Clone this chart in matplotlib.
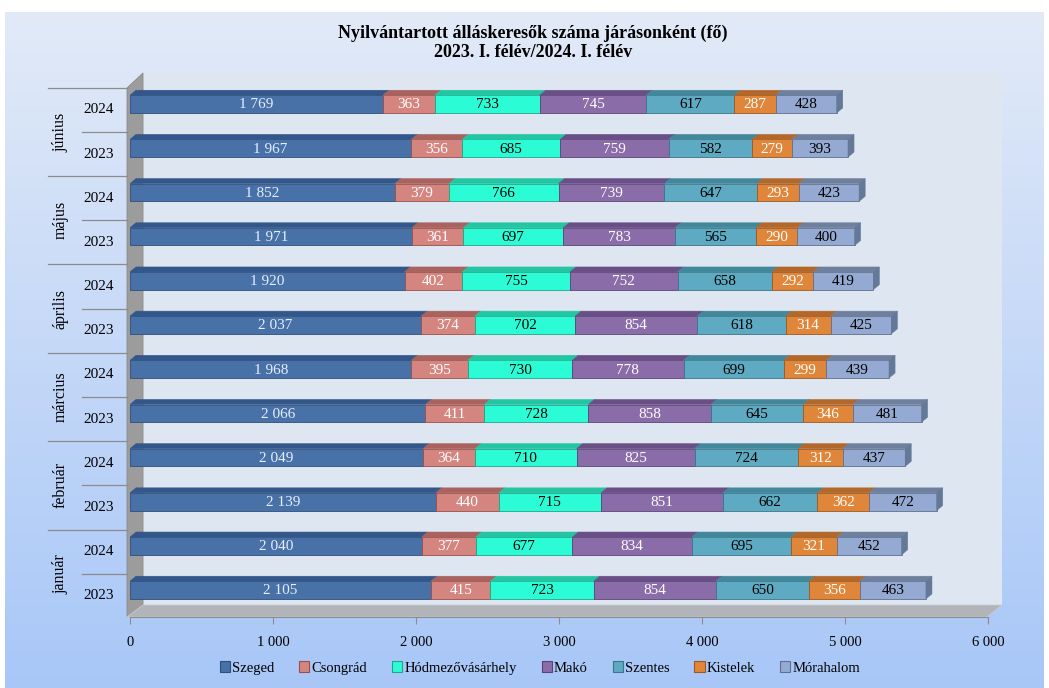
import numpy as np
import matplotlib
matplotlib.use("Agg")
import matplotlib.pyplot as plt
from matplotlib.patches import Polygon, Patch
import matplotlib.transforms as mtransforms

plt.rcParams['font.family'] = ['Liberation Serif', 'DejaVu Serif']

# --- data (bottom to top) ---
months = ['január', 'február', 'március', 'április', 'május', 'június']
years = ['2023', '2024']
districts = ['Szeged', 'Csongrád', 'Hódmezővásárhely', 'Makó', 'Szentes', 'Kistelek', 'Mórahalom']

szeged    = [2105, 2040, 2139, 2049, 2066, 1968, 2037, 1920, 1971, 1852, 1967, 1769]
csongrad  = [415, 377, 440, 364, 411, 395, 374, 402, 361, 379, 356, 363]
hodmezo   = [723, 677, 715, 710, 728, 730, 702, 755, 697, 766, 685, 733]
mako      = [854, 834, 851, 825, 858, 778, 854, 752, 783, 739, 759, 745]
szentes   = [650, 695, 662, 724, 645, 699, 618, 658, 565, 647, 582, 617]
kistelek  = [356, 321, 362, 312, 346, 299, 314, 292, 290, 293, 279, 287]
morahalom = [463, 452, 472, 437, 481, 439, 425, 419, 400, 423, 393, 428]

series = [szeged, csongrad, hodmezo, mako, szentes, kistelek, morahalom]
front_colors = ['#4771a7', '#d4857f', '#2cfcd5', '#8a6ca8', '#5eaac3', '#e0863a', '#95aad2']
top_colors = ['#33578a', '#a9625d', '#22c6a2', '#6a4f87', '#43879b', '#b3682b', '#6f809f']
edge_colors = ['#2f4f7a', '#9a4f4a', '#1ea585', '#5b4475', '#3b7688', '#9a5822', '#60708c']
text_colors = ['#e6eeff', 'white', 'black', 'white', 'black', 'white', 'black']
x_ticks = [0, 1000, 2000, 3000, 4000, 5000, 6000]

W, H = 1049, 688
fig = plt.figure(figsize=(W / 100, H / 100), dpi=100)
fig.patch.set_facecolor('white')

# background (pixel coordinates)
bg = fig.add_axes([0, 0, 1, 1])
bg.set_xlim(0, W)
bg.set_ylim(H, 0)
bg.axis('off')
grad = np.linspace(0, 1, 256)[:, None]
top_c = np.array([0xe2, 0xea, 0xf8]) / 255
bot_c = np.array([0xa8, 0xc7, 0xf7]) / 255
img = top_c[None, None, :] * (1 - grad[:, :, None]) + bot_c[None, None, :] * grad[:, :, None]
bg.imshow(img, extent=[5, W - 5, H, 12], aspect='auto', zorder=0)
# back wall
bg.add_patch(Polygon([(143, 73), (1002, 73), (1002, 605), (143, 605)], closed=True,
                     facecolor='#dde6f1', edgecolor='none', zorder=1))
# side wall
bg.add_patch(Polygon([(127, 88), (143, 73), (143, 605), (127, 617)], closed=True,
                     facecolor='#9c9c9c', edgecolor='#8a8a8a', lw=0.6, zorder=2))
# floor
bg.add_patch(Polygon([(127, 617), (143, 605), (1002, 605), (987, 617)], closed=True,
                     facecolor='#b1b5b9', edgecolor='#c8ccd0', lw=0.6, zorder=2))

# main axes
px_per_unit = 858 / 6000
ax = fig.add_axes([130 / W, (H - 617) / H, 858 / W, 535 / H])
ax.patch.set_alpha(0)
ax.set_xlim(0, 6000)
ax.set_ylim(-0.61, 11.5)
for s in ['top', 'right', 'left']:
    ax.spines[s].set_visible(False)
ax.spines['bottom'].set_color('#8c8c8c')
ax.set_xticks(x_ticks)
ax.set_xticklabels([f'{v:,}'.replace(',', ' ') for v in x_ticks], fontsize=10.5)
ax.tick_params(axis='x', direction='out', length=5, color='#8c8c8c', pad=9)
ax.set_yticks([])

y = np.arange(12)
bh = 0.40
dx = 6 / px_per_unit
dy = 5 / 44.2
left = np.zeros(12)
for k, vals in enumerate(series):
    vals = np.array(vals)
    ax.barh(y, vals, left=left, height=bh, color=front_colors[k],
            edgecolor=edge_colors[k], linewidth=0.6, zorder=3)
    for i in range(12):
        l, r = left[i], left[i] + vals[i]
        t = y[i] + bh / 2
        ax.add_patch(Polygon([(l, t), (l + dx, t + dy), (r + dx, t + dy), (r, t)], closed=True,
                             facecolor=top_colors[k], edgecolor=top_colors[k], lw=0.4, zorder=3))
        if k == len(series) - 1:
            b = y[i] - bh / 2
            ax.add_patch(Polygon([(r, b), (r + dx, b + dy), (r + dx, t + dy), (r, t)], closed=True,
                                 facecolor='#647897', edgecolor='#647897', lw=0.4, zorder=3))
        ax.text(l + vals[i] / 2, y[i] - 0.02, f'{vals[i]:,}'.replace(',', ' '),
                ha='center', va='center', fontsize=11, color=text_colors[k], zorder=4)
    left = left + vals

# category labels on the left
trans = mtransforms.blended_transform_factory(ax.transAxes, ax.transData)
shift = 0.13
for i in range(12):
    ax.text(-0.037, y[i] - shift, years[i % 2], transform=trans, ha='center', va='center',
            fontsize=11, clip_on=False)
for m, name in enumerate(months):
    ax.text(-0.081, 2 * m + 0.5 - shift, name, transform=trans, ha='center', va='center',
            rotation=90, fontsize=11.5, clip_on=False)
    # month separator above, year separator in the middle
    ax.plot([-0.095, -0.003], [2 * m + 1.5 - shift] * 2, transform=trans, color='#8c8c8c',
            lw=0.9, clip_on=False)
    ax.plot([-0.056, -0.003], [2 * m + 0.5 - shift] * 2, transform=trans, color='#8c8c8c',
            lw=0.9, clip_on=False)

fig.text(533 / W, 1 - 43 / H, 'Nyilvántartott álláskeresők száma járásonként (fő)\n2023. I. félév/2024. I. félév',
         ha='center', va='center', fontsize=13, fontweight='bold', linespacing=1.2)

handles = [Patch(facecolor=front_colors[k], edgecolor=edge_colors[k], lw=0.8) for k in range(7)]
fig.legend(handles, districts, loc='center', bbox_to_anchor=(540 / W, 1 - 668 / H), ncol=7,
           frameon=False, fontsize=10.5, handlelength=0.7, handleheight=0.7,
           handletextpad=0.15, columnspacing=1.7)

fig.savefig('out.png', dpi=100)
